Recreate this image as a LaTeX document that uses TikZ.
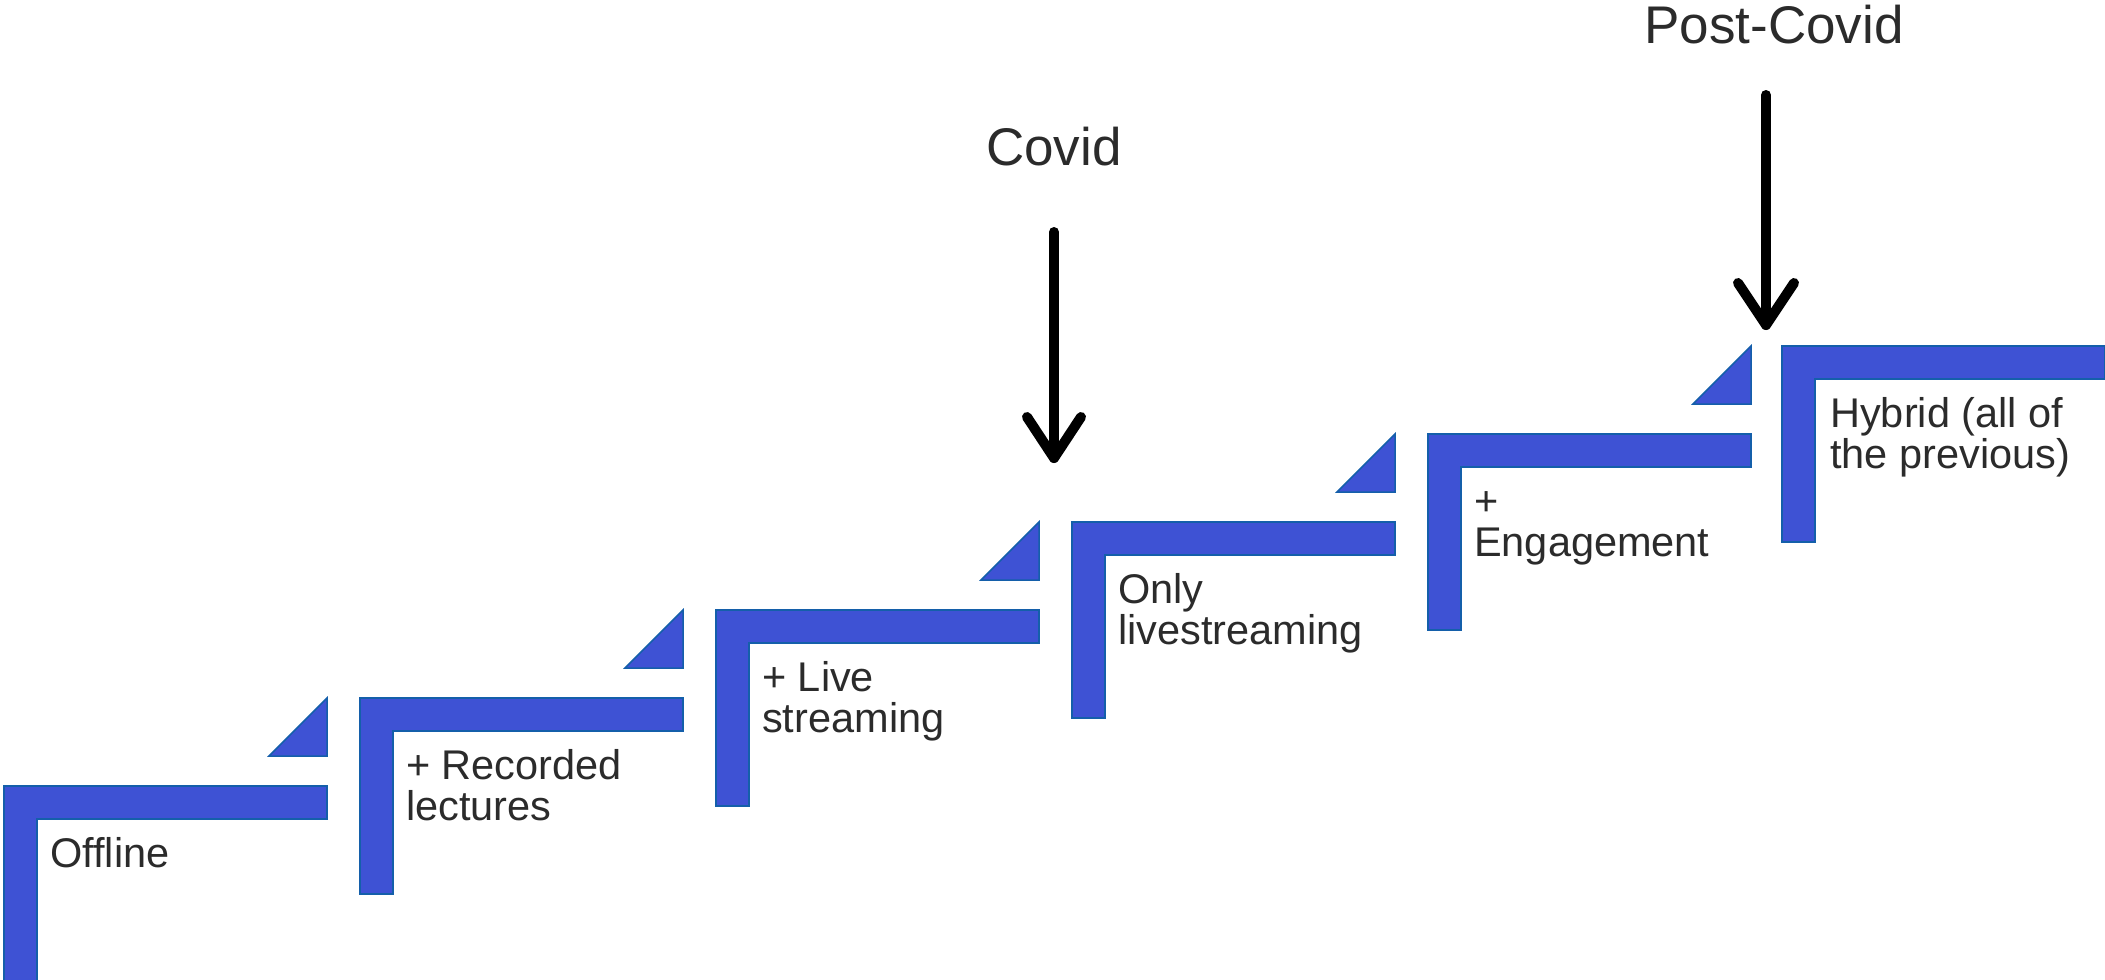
\documentclass[tikz,border=0pt]{standalone}
\usepackage{fontspec}
\setmainfont{Liberation Sans}
\definecolor{stepfill}{RGB}{62,82,212}
\definecolor{stepedge}{RGB}{20,95,170}
\definecolor{txt}{RGB}{43,43,43}
\newcommand\twolines[2]{\vtop{\hbox{#1}\hbox{#2}}}

\begin{document}
\begin{tikzpicture}[x=1pt,y=-1pt,
  stair/.style={fill=stepfill,draw=stepedge,line width=1.5pt,line join=miter},
  lbl/.style={anchor=base west,inner sep=0pt,text=txt,font=\fontsize{41.5}{41.5}\selectfont},
  era/.style={anchor=base,inner sep=0pt,text=txt,font=\fontsize{53}{53}\selectfont},
  pointer/.style={line width=10pt,line cap=round,line join=round,draw=black}]
\useasboundingbox (0,0) rectangle (2105,980);
\clip (0,0) rectangle (2105,980);

% the six stair steps (L-shaped profiles)
\foreach \x/\t [count=\i] in {4/786,360/698,716/610,1072/522,1428/434,1782/346} {
  \draw[stair] (\x,\t+196) -- (\x,\t) -- (\x+323,\t) -- (\x+323,\t+33)
               -- (\x+33,\t+33) -- (\x+33,\t+196) -- cycle;
  \coordinate (s\i) at (\x+46,\t+81);
}
% small wedges above the end of each lower step
\foreach \x/\t in {4/786,360/698,716/610,1072/522,1428/434} {
  \draw[stair] (\x+323,\t-30) -- (\x+265,\t-30) -- (\x+323,\t-88) -- cycle;
}

% step labels
\node[lbl] (l1) at (s1) {Offline};
\node[lbl] (l2) at (s2) {\twolines{+ Recorded}{lectures}};
\node[lbl] (l3) at (s3) {\twolines{+ Live}{streaming}};
\node[lbl] (l4) at (s4) {\twolines{Only}{livestreaming}};
\node[lbl] (l5) at (s5) {\twolines{+}{Engagement}};
\node[lbl] (l6) at ([xshift=2pt]s6) {\twolines{Hybrid (all of}{the previous)}};

% era markers
\node[era] (covid) at (1054,165) {Covid};
\coordinate (c0) at (1054,232);
\coordinate (c1) at (1054,458);
\draw[pointer] (c0) -- (c1);
\draw[pointer] ([shift={(-27,-41)}]c1) -- (c1) -- ([shift={(27,-41)}]c1);

\node[era] (post) at (1774,43) {Post-Covid};
\coordinate (p0) at (1766,95);
\coordinate (p1) at (1766,325);
\draw[pointer] (p0) -- (p1);
\draw[pointer] ([shift={(-28,-42)}]p1) -- (p1) -- ([shift={(28,-42)}]p1);
\end{tikzpicture}
\end{document}
